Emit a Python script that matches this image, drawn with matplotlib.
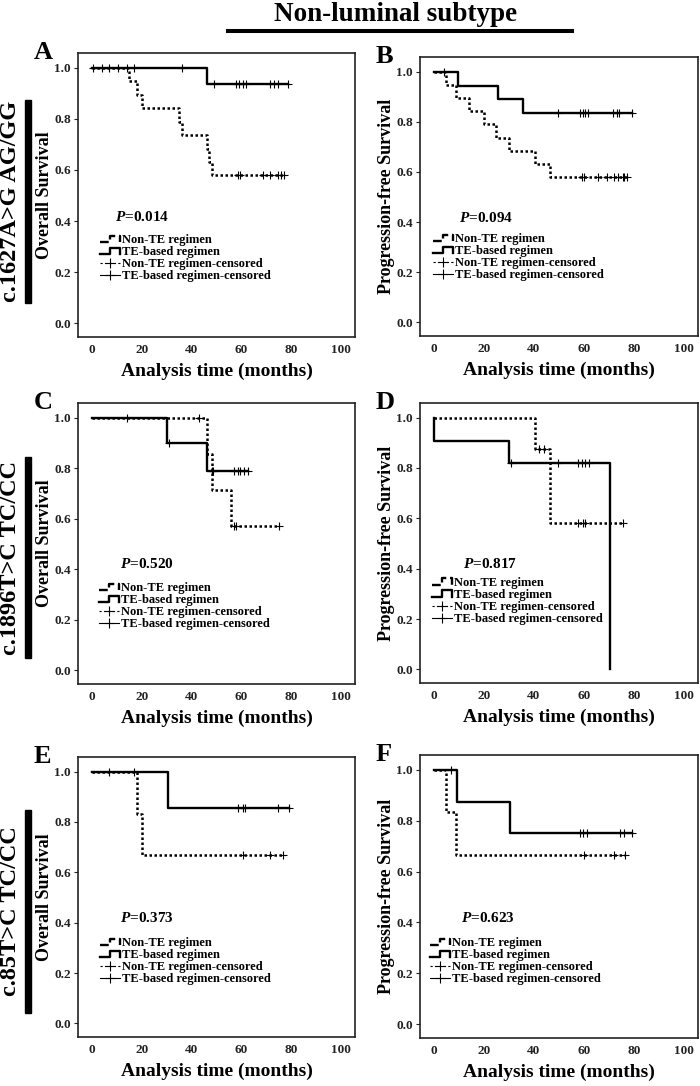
import numpy as np
import matplotlib
matplotlib.use("Agg")
import matplotlib.pyplot as plt
from matplotlib.lines import Line2D
from matplotlib.patches import Rectangle
from matplotlib.legend_handler import HandlerBase

plt.rcParams["font.family"] = "Liberation Serif"
plt.rcParams["font.weight"] = "bold"
plt.rcParams["mathtext.fontset"] = "custom"
plt.rcParams["mathtext.it"] = "Liberation Serif:italic:bold"
plt.rcParams["mathtext.rm"] = "Liberation Serif:bold"

# ---- data (time in months, survival fraction) ----
# A: OS, c.1627A>G AG/GG
a_nonte_t = [0, 15, 18, 20, 35, 36, 46, 47, 48, 77]
a_nonte_s = [1.0, 0.947, 0.895, 0.842, 0.789, 0.737, 0.684, 0.632, 0.579, 0.579]
a_nonte_c = [58.5, 59.5, 68.5, 71.5, 74.5, 76, 77]
a_te_t = [0, 46, 78.5]
a_te_s = [1.0, 0.938, 0.938]
a_te_c = [0.5, 4, 7, 10.5, 14, 17, 36, 49, 58, 59, 60.5, 62, 71.5, 73, 74.5, 78.5]

# B: PFS, c.1627A>G AG/GG
b_nonte_t = [0, 5, 9, 14, 20, 25, 30, 40.5, 46.5, 77]
b_nonte_s = [1.0, 0.947, 0.895, 0.842, 0.789, 0.737, 0.684, 0.632, 0.579, 0.579]
b_nonte_c = [59, 60, 65.5, 69, 72, 73.5, 75.5, 76, 77]
b_te_t = [0, 9.5, 25.5, 35.5, 79]
b_te_s = [1.0, 0.944, 0.889, 0.833, 0.833]
b_te_c = [4, 49.5, 58.5, 59.5, 60.5, 61.7, 71.5, 73, 74, 79]

# C: OS, c.1896T>C TC/CC
c_nonte_t = [0, 46, 48, 56, 75]
c_nonte_s = [1.0, 0.855, 0.714, 0.571, 0.571]
c_nonte_c = [43, 57, 58, 75]
c_te_t = [0, 30, 46, 62.5]
c_te_s = [1.0, 0.9, 0.788, 0.788]
c_te_c = [14, 31, 48, 48.5, 57, 58.5, 59.5, 61, 62.5]

# D: PFS, c.1896T>C TC/CC
d_nonte_t = [0, 40.5, 46.5, 75.5]
d_nonte_s = [1.0, 0.875, 0.583, 0.583]
d_nonte_c = [42, 44, 57.5, 59.5, 60.5, 75.5]
d_te_t = [0, 0, 30, 70.5]
d_te_s = [1.0, 0.909, 0.818, 0.0]
d_te_c = [31, 49.5, 57.5, 59, 60.5, 62]

# E: OS, c.85T>C TC/CC
e_nonte_t = [0, 18, 20, 76.5]
e_nonte_s = [1.0, 0.833, 0.667, 0.667]
e_nonte_c = [60.5, 71.5, 76.5]
e_te_t = [0, 30.5, 79]
e_te_s = [1.0, 0.857, 0.857]
e_te_c = [7, 17, 58.5, 60.5, 61.5, 74.5, 79]

# F: PFS, c.85T>C TC/CC
f_nonte_t = [0, 5, 9, 76.5]
f_nonte_s = [1.0, 0.833, 0.667, 0.667]
f_nonte_c = [60, 72, 76.5]
f_te_t = [0, 9.2, 30.5, 79]
f_te_s = [1.0, 0.875, 0.75, 0.75]
f_te_c = [7, 58.5, 59.7, 61.2, 74.5, 76, 79]

p_values = ["0.014", "0.094", "0.520", "0.817", "0.373", "0.623"]
panel_letters = ["A", "B", "C", "D", "E", "F"]
y_labels = ["Overall Survival", "Progression-free Survival"]
row_labels = ["c.1627A>G AG/GG", "c.1896T>C TC/CC", "c.85T>C TC/CC"]
legend_labels = ["Non-TE regimen", "TE-based regimen",
                 "Non-TE regimen-censored", "TE-based regimen-censored"]
x_ticks = [0, 20, 40, 60, 80, 100]
y_ticks = [0.0, 0.2, 0.4, 0.6, 0.8, 1.0]

curves = [
    (a_nonte_t, a_nonte_s, a_nonte_c, a_te_t, a_te_s, a_te_c),
    (b_nonte_t, b_nonte_s, b_nonte_c, b_te_t, b_te_s, b_te_c),
    (c_nonte_t, c_nonte_s, c_nonte_c, c_te_t, c_te_s, c_te_c),
    (d_nonte_t, d_nonte_s, d_nonte_c, d_te_t, d_te_s, d_te_c),
    (e_nonte_t, e_nonte_s, e_nonte_c, e_te_t, e_te_s, e_te_c),
    (f_nonte_t, f_nonte_s, f_nonte_c, f_te_t, f_te_s, f_te_c),
]

# ---- layout (pixels) ----
W, H = 700, 1086
boxes = [(78, 53, 355, 337), (420, 57, 698, 336),
         (78, 403, 355, 684), (420, 403, 698, 683),
         (78, 757, 355, 1037), (420, 755, 698, 1038)]
p_pos = [(9.2, 0.416), (10, 0.417), (11.2, 0.419), (11.5, 0.419), (11.2, 0.417), (10.8, 0.417)]
leg_pos = [(0.079, 0.361), (0.047, 0.369), (0.076, 0.363), (0.042, 0.379), (0.079, 0.357), (0.036, 0.357)]
bars = [(100, 303), (457, 658), (810, 1013)]

DOT = (0, (1, 1))


class HandlerStep(HandlerBase):
    def create_artists(self, legend, orig, xd, yd, width, height, fontsize, trans):
        lo, hi = -yd + 0.15 * height, -yd + 0.85 * height
        xs = [-xd, -xd + 0.5 * width, -xd + 0.5 * width, -xd + width, -xd + width]
        ys = [lo, lo, hi, hi, lo]
        ln = Line2D(xs, ys, color="black", lw=orig.get_linewidth(),
                    ls=orig.get_linestyle(), transform=trans)
        return [ln]


def surv_at(t, s, c):
    idx = np.searchsorted(t, c, side="right") - 1
    return np.asarray(s)[idx]


fig = plt.figure(figsize=(W / 100, H / 100), dpi=100)

for i, (l, t, r, b) in enumerate(boxes):
    ax = fig.add_axes([l / W, 1 - b / H, (r - l) / W, (b - t) / H])
    nt, ns, nc, tt, ts, tc = curves[i]

    ax.step(nt, ns, where="post", color="black", lw=1.8, ls=DOT)
    ax.step(tt, ts, where="post", color="black", lw=1.7)
    ax.plot(nc, surv_at(nt, ns, nc), ls="none", marker="+", ms=6, mew=0.8, color="black")
    ax.plot(tc, surv_at(tt, ts, tc), ls="none", marker="+", ms=6, mew=0.8, color="black")

    ax.set_xlim(-5.5, 105.5)
    ax.set_ylim(-0.054, 1.058)
    ax.set_xticks(x_ticks)
    ax.set_yticks(y_ticks)
    ax.set_yticklabels(["%.1f" % v for v in y_ticks])
    ax.tick_params(axis="x", length=0, pad=5, labelsize=9.5, colors="#222222")
    ax.tick_params(axis="y", length=3, width=0.8, pad=2, labelsize=9.5, colors="#222222")
    for sp in ax.spines.values():
        sp.set_linewidth(1.2)
        sp.set_color("#222222")

    ax.set_xlabel("Analysis time (months)", fontsize=14, fontweight="bold", labelpad=5)
    ax.text(-0.12, 0.5, y_labels[i % 2], transform=ax.transAxes, rotation=90,
            ha="center", va="center", fontsize=13, fontweight="bold")

    px, py = p_pos[i]
    ax.text(px, py, r"$P$=" + p_values[i], fontsize=11, fontweight="bold", va="center")

    handles = [Line2D([], [], color="black", lw=1.7, ls=DOT),
               Line2D([], [], color="black", lw=1.7),
               Line2D([], [], color="black", lw=0.8, ls=(0, (2, 2)), marker="+", ms=7, mew=0.8),
               Line2D([], [], color="black", lw=0.8, marker="+", ms=7, mew=0.8)]
    lx, ly = leg_pos[i]
    ax.legend(handles, legend_labels, loc="upper left", bbox_to_anchor=(lx, ly),
              frameon=False, prop={"family": "Liberation Serif", "weight": "bold", "size": 9},
              handlelength=1.6, handletextpad=0.15, labelspacing=0.0, borderpad=0,
              borderaxespad=0, numpoints=1,
              handler_map={handles[0]: HandlerStep(), handles[1]: HandlerStep()})

    fig.text((l - 44) / W, 1 - (t + 6) / H, panel_letters[i], fontsize=19,
             fontweight="bold", ha="left", va="baseline")

# row labels with black bars
for k, (y0, y1) in enumerate(bars):
    fig.patches.append(Rectangle((25 / W, 1 - y1 / H), 6 / W, (y1 - y0) / H,
                                 transform=fig.transFigure, color="black"))
    fig.text(11 / W, 1 - (y0 + y1) / 2 / H, row_labels[k], rotation=90, ha="center",
             va="center", fontsize=17.5, fontweight="bold")

# title with underline
fig.text(396 / W, 1 - 21 / H, "Non-luminal subtype", fontsize=19.5, fontweight="bold",
         ha="center", va="baseline")
fig.add_artist(Line2D([228 / W, 572 / W], [1 - 31 / H, 1 - 31 / H], color="black",
                      lw=2.9, transform=fig.transFigure))

fig.savefig("out.png", dpi=100)
